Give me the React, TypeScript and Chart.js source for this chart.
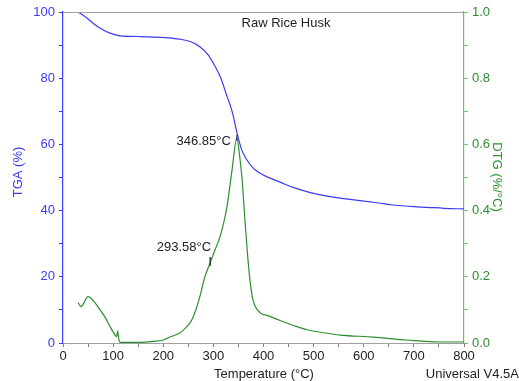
import React, { useEffect, useRef } from "react";
import { Chart, registerables } from "chart.js";

Chart.register(...registerables);

const tgaTemps = [30, 45, 60, 75, 94, 114, 150, 200, 233, 255, 273, 290, 300, 315, 327, 335, 340, 347, 352, 357, 362, 367, 379, 390, 407, 433, 459, 490, 527, 560, 593, 630, 659, 700, 726, 760, 800];
const tgaValues = [100, 98.5, 96.6, 95, 93.6, 92.8, 92.6, 92.3, 91.8, 91, 89.5, 87, 84.5, 80, 74.6, 71.2, 68.4, 63.6, 60.6, 58.2, 56.6, 55.3, 52.9, 51.6, 50.2, 48.6, 47, 45.6, 44.4, 43.6, 43, 42.3, 41.7, 41.2, 41, 40.7, 40.5];

const dtgTemps = [30, 36, 50, 62, 74, 85, 94, 104, 107, 109, 111, 114, 150, 180, 200, 213, 233, 240, 253, 260, 273, 283, 293, 303, 313, 320, 327, 337, 347, 352, 357, 363, 368, 373, 379, 393, 410, 433, 460, 487, 520, 553, 619, 686, 752, 800];
const dtgValues = [0.122, 0.11, 0.14, 0.125, 0.1, 0.075, 0.049, 0.024, 0.019, 0.037, 0.015, 0.002, 0.002, 0.005, 0.009, 0.018, 0.03, 0.039, 0.06, 0.079, 0.14, 0.2, 0.24, 0.28, 0.32, 0.36, 0.41, 0.52, 0.62, 0.57, 0.5, 0.37, 0.27, 0.19, 0.13, 0.092, 0.082, 0.068, 0.053, 0.04, 0.031, 0.024, 0.018, 0.009, 0.003, 0.003];

const annotTemps = [346.85, 293.58];
const annotValues = [0.62, 0.245];
const annotLabels = ["346.85°C", "293.58°C"];

const titleText = "Raw Rice Husk";
const xTitle = "Temperature (°C)";
const yTitle = "TGA (%)";
const y2Title = "DTG (%/°C)";
const footerText = "Universal V4.5A";

const FONT = "'Liberation Sans', Arial, sans-serif";
const BLUE = "#3b3bf5";
const GREEN = "#2e8f2e";
const GREEN_AXIS = "#6cbf6c";

const overlay = {
  id: "overlay",
  afterDraw(chart: any) {
    const { ctx, chartArea, scales } = chart;
    const x = scales.x;
    const y2 = scales.y2;
    ctx.save();
    ctx.strokeStyle = "#a0a0a0";
    ctx.lineWidth = 1;
    ctx.beginPath();
    ctx.moveTo(chartArea.left, chartArea.top + 0.5);
    ctx.lineTo(chartArea.right, chartArea.top + 0.5);
    ctx.stroke();

    ctx.font = `13px ${FONT}`;
    ctx.fillStyle = "#222";
    ctx.textBaseline = "middle";
    ctx.textAlign = "center";
    ctx.fillText(titleText, 286, 23);
    ctx.fillText(xTitle, 264, 374);
    ctx.textAlign = "right";
    ctx.fillText(footerText, 519, 374);

    annotTemps.forEach((t, i) => {
      const px = x.getPixelForValue(t);
      const py = y2.getPixelForValue(annotValues[i]);
      ctx.fillStyle = "#222";
      ctx.textAlign = "right";
      ctx.strokeStyle = "#1a1a1a";
      if (i === 0) {
        ctx.fillText(annotLabels[i], px - 6, py + 4);
        ctx.lineWidth = 1;
        ctx.beginPath();
        ctx.moveTo(px, py - 3);
        ctx.lineTo(px, py + 3);
        ctx.stroke();
      } else {
        ctx.fillText(annotLabels[i], px + 1, py - 14);
        ctx.lineWidth = 1.2;
        ctx.beginPath();
        ctx.moveTo(px, py - 5);
        ctx.lineTo(px, py + 4);
        ctx.stroke();
      }
    });

    ctx.fillStyle = BLUE;
    ctx.textAlign = "center";
    ctx.save();
    ctx.translate(18, 172);
    ctx.rotate(-Math.PI / 2);
    ctx.fillText(yTitle, 0, 0);
    ctx.restore();

    ctx.fillStyle = GREEN;
    ctx.save();
    ctx.translate(497, 177);
    ctx.rotate(Math.PI / 2);
    ctx.fillText(y2Title, 0, 0);
    ctx.restore();

    ctx.restore();
  },
};

export default function App() {
  const ref = useRef<HTMLCanvasElement | null>(null);
  useEffect(() => {
    document.body.style.margin = "0";
    const canvas = ref.current!;
    const chart = new Chart(canvas, {
      type: "line",
      data: {
        datasets: [
          {
            label: "TGA",
            data: tgaTemps.map((t, i) => ({ x: t, y: tgaValues[i] })),
            borderColor: BLUE,
            borderWidth: 1.2,
            pointRadius: 0,
            cubicInterpolationMode: "monotone",
            yAxisID: "y",
          },
          {
            label: "DTG",
            data: dtgTemps.map((t, i) => ({ x: t, y: dtgValues[i] })),
            borderColor: GREEN,
            borderWidth: 1.2,
            pointRadius: 0,
            cubicInterpolationMode: "monotone",
            yAxisID: "y2",
          },
        ],
      },
      options: {
        animation: false,
        responsive: false,
        maintainAspectRatio: false,
        layout: { padding: { top: 12, left: 0, right: 0, bottom: 0 } },
        plugins: { legend: { display: false }, tooltip: { enabled: false } },
        scales: {
          x: {
            type: "linear",
            min: 0,
            max: 800,
            afterFit: (s: any) => { s.height = 38; },
            ticks: {
              stepSize: 50,
              autoSkip: false,
              maxRotation: 0,
              padding: 2,
              color: "#222",
              font: { family: FONT, size: 13 },
              callback: (v: any) => (Number(v) % 100 === 0 ? String(v) : ""),
            },
            grid: { drawOnChartArea: false, tickLength: 4, tickColor: "#808080" },
            border: { color: "#a0a0a0" },
          },
          y: {
            position: "left",
            min: 0,
            max: 100,
            afterFit: (s: any) => { s.width = 63; },
            ticks: {
              stepSize: 10,
              autoSkip: false,
              padding: 4,
              color: BLUE,
              font: { family: FONT, size: 13 },
              callback: (v: any) => (Number(v) % 20 === 0 ? String(v) : ""),
            },
            grid: { drawOnChartArea: false, tickLength: 4, tickColor: BLUE },
            border: { color: BLUE, width: 1.2 },
          },
          y2: {
            position: "right",
            min: 0,
            max: 1,
            afterFit: (s: any) => { s.width = 55; },
            ticks: {
              stepSize: 0.1,
              autoSkip: false,
              padding: 4,
              color: GREEN,
              font: { family: FONT, size: 13 },
              callback: (v: any) => (Math.round(Number(v) * 10) % 2 === 0 ? Number(v).toFixed(1) : ""),
            },
            grid: { drawOnChartArea: false, tickLength: 4, tickColor: GREEN_AXIS },
            border: { color: GREEN_AXIS, width: 1.2 },
          },
        },
      },
      plugins: [overlay],
    } as any);
    return () => chart.destroy();
  }, []);
  return (
    <div style={{ width: 519, height: 381, background: "#fff" }}>
      <canvas ref={ref} width={519} height={381} style={{ display: "block" }} />
    </div>
  );
}
